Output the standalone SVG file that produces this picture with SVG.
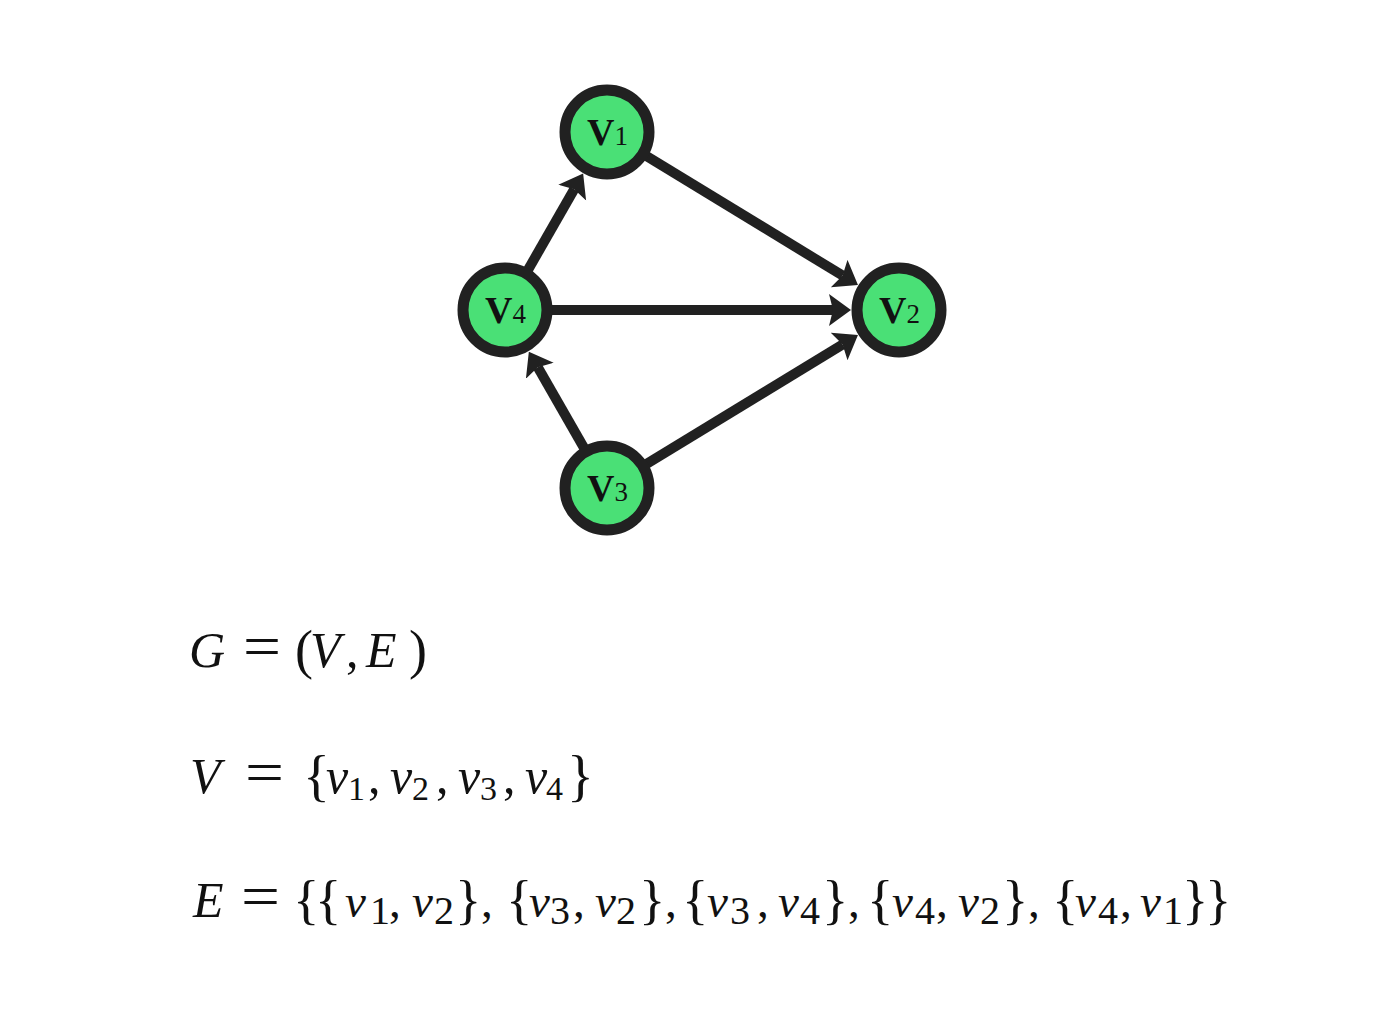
<svg xmlns="http://www.w3.org/2000/svg" width="1400" height="1030" viewBox="0 0 1400 1030">
<style>
.node{fill:#4ae076;stroke:#212121;stroke-width:11}
.edge{stroke:#212121;stroke-width:10;fill:none;marker-end:url(#ah)}
.lbl{font-family:"Liberation Serif",serif;fill:#111}
.lv{font-weight:bold;font-size:38px}
.ld{font-size:27px}
.m{font-family:"Liberation Serif",serif;fill:#111}
.i{font-style:italic}
</style>
<defs>
<marker id="ah" markerUnits="userSpaceOnUse" markerWidth="24" markerHeight="34" refX="4" refY="16" orient="auto" viewBox="0 0 24 34">
<path d="M0,0 L22,16 L0,32 L4,16 Z" fill="#212121"/>
</marker>
</defs>
<rect width="1400" height="1030" fill="#fff"/>
<g id="edges">
<line class="edge" x1="505" y1="310" x2="574.2" y2="189.2"/>
<line class="edge" x1="607" y1="132" x2="842.6" y2="275.6"/>
<line class="edge" x1="505" y1="310" x2="833" y2="310"/>
<line class="edge" x1="607" y1="488" x2="842.6" y2="344.4"/>
<line class="edge" x1="607" y1="488" x2="537.8" y2="367.3"/>
</g>
<g id="node-v1"><circle class="node" cx="607" cy="132" r="42"/><text class="lbl" x="587" y="145"><tspan class="lv">V</tspan><tspan class="ld">1</tspan></text></g>
<g id="node-v2"><circle class="node" cx="899" cy="310" r="42"/><text class="lbl" x="879" y="323"><tspan class="lv">V</tspan><tspan class="ld">2</tspan></text></g>
<g id="node-v3"><circle class="node" cx="607" cy="488" r="42"/><text class="lbl" x="587" y="501"><tspan class="lv">V</tspan><tspan class="ld">3</tspan></text></g>
<g id="node-v4"><circle class="node" cx="505" cy="310" r="42"/><text class="lbl" x="485" y="323"><tspan class="lv">V</tspan><tspan class="ld">4</tspan></text></g>
<g id="formulas" class="m">
<text x="189" y="667" font-size="50"><tspan class="i">G</tspan></text>
<text x="243" y="667" font-size="62" textLength="38" lengthAdjust="spacingAndGlyphs">=</text>
<text y="668" font-size="50"><tspan x="295" font-size="54">(</tspan><tspan class="i" x="310" y="667">V</tspan><tspan x="346" y="667">,</tspan><tspan class="i" x="366" y="667">E</tspan><tspan x="409" y="668" font-size="54">)</tspan></text>

<text x="190" y="793" font-size="50"><tspan class="i">V</tspan></text>
<text x="245" y="793" font-size="62" textLength="39" lengthAdjust="spacingAndGlyphs">=</text>
<text font-size="50"><tspan x="303" y="795" font-size="56">{</tspan><tspan class="i" x="326" y="793">v</tspan><tspan x="348" y="800" font-size="34">1</tspan><tspan x="368" y="793">,</tspan><tspan class="i" x="390" y="793">v</tspan><tspan x="412" y="800" font-size="34">2</tspan><tspan x="436" y="793">,</tspan><tspan class="i" x="458" y="793">v</tspan><tspan x="480" y="800" font-size="34">3</tspan><tspan x="503" y="793">,</tspan><tspan class="i" x="525" y="793">v</tspan><tspan x="546" y="800" font-size="34">4</tspan><tspan x="567" y="795" font-size="56">}</tspan></text>

<text x="193" y="917" font-size="50"><tspan class="i">E</tspan></text>
<text x="241" y="917" font-size="62" textLength="39" lengthAdjust="spacingAndGlyphs">=</text>
<text font-size="47"><tspan x="293" y="918" font-size="55">{</tspan><tspan x="315" y="918" font-size="55">{</tspan><tspan class="i" x="345" y="917">v</tspan><tspan x="370" y="924" font-size="40">1</tspan><tspan x="389" y="917">,</tspan><tspan class="i" x="412" y="917">v</tspan><tspan x="434" y="924" font-size="40">2</tspan><tspan x="455" y="918" font-size="55">}</tspan><tspan x="481" y="917">,</tspan><tspan x="506" y="918" font-size="55">{</tspan><tspan class="i" x="529" y="917">v</tspan><tspan x="550" y="924" font-size="40">3</tspan><tspan x="573" y="917">,</tspan><tspan class="i" x="595" y="917">v</tspan><tspan x="616" y="924" font-size="40">2</tspan><tspan x="639" y="918" font-size="55">}</tspan><tspan x="665" y="917">,</tspan><tspan x="682" y="918" font-size="55">{</tspan><tspan class="i" x="707" y="917">v</tspan><tspan x="730" y="924" font-size="40">3</tspan><tspan x="757" y="917">,</tspan><tspan class="i" x="778" y="917">v</tspan><tspan x="800" y="924" font-size="40">4</tspan><tspan x="822" y="918" font-size="55">}</tspan><tspan x="848" y="917">,</tspan><tspan x="867" y="918" font-size="55">{</tspan><tspan class="i" x="892" y="917">v</tspan><tspan x="915" y="924" font-size="40">4</tspan><tspan x="936" y="917">,</tspan><tspan class="i" x="958" y="917">v</tspan><tspan x="980" y="924" font-size="40">2</tspan><tspan x="1002" y="918" font-size="55">}</tspan><tspan x="1028" y="917">,</tspan><tspan x="1052" y="918" font-size="55">{</tspan><tspan class="i" x="1075" y="917">v</tspan><tspan x="1098" y="924" font-size="40">4</tspan><tspan x="1120" y="917">,</tspan><tspan class="i" x="1140" y="917">v</tspan><tspan x="1163" y="924" font-size="40">1</tspan><tspan x="1182" y="918" font-size="55">}</tspan><tspan x="1205" y="918" font-size="55">}</tspan></text>
</g>
</svg>
